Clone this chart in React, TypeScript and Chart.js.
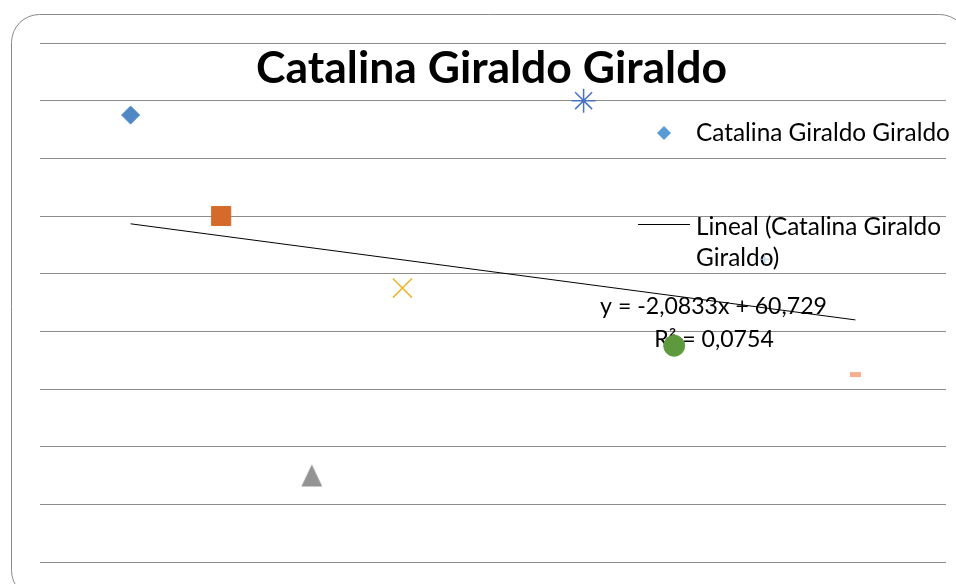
import React, { useEffect, useRef } from "react";
import { Chart, registerables } from "chart.js";

Chart.register(...registerables);

// Series data
const seriesName = "Catalina Giraldo Giraldo";
const xValues = [1, 2, 3, 4, 6, 7, 8, 9];
const yValues = [77.5, 60, 15, 47.5, 80, 37.5, 52.5, 32.5];

// Per-point marker appearance (varied colours per point)
const pointStyleNames = ["rectRot", "rect", "triangleBox", "crossRot", "star", "circle", "cross", "line"];
const pointColors = ["#4F88C5", "#D56B2B", "#939393", "#EDB52C", "#4673C4", "#5E9A3D", "#A9C9EA", "#F4AE8E"];
const pointSizes = [9, 13.5, 11, 13.5, 12, 10.5, 5, 5.5];
const pointLineWidths = [1, 1, 1, 1.5, 1.5, 1, 1, 5];

// Axis ranges (axes themselves carry no labels)
const yMin = 0;
const yMax = 90;
const yStep = 10;
const xMin = 0;
const xMax = 10;

const trendLegendLines = ["Lineal (Catalina Giraldo", "Giraldo)"];

const FONT = "Lato, 'Open Sans', 'Liberation Sans', sans-serif";

function linearFit(xs: number[], ys: number[]) {
  const n = xs.length;
  const mx = xs.reduce((a, b) => a + b, 0) / n;
  const my = ys.reduce((a, b) => a + b, 0) / n;
  let sxy = 0, sxx = 0, syy = 0;
  for (let i = 0; i < n; i++) {
    sxy += (xs[i] - mx) * (ys[i] - my);
    sxx += (xs[i] - mx) ** 2;
    syy += (ys[i] - my) ** 2;
  }
  const slope = sxy / sxx;
  const intercept = my - slope * mx;
  const r2 = (sxy * sxy) / (sxx * syy);
  return { slope, intercept, r2 };
}

const fit = linearFit(xValues, yValues);
const xFirst = Math.min(...xValues);
const xLast = Math.max(...xValues);

const fmt = (v: number, d: number) => v.toFixed(d).replace(".", ",");
const equationText = `y = ${fit.slope < 0 ? "-" : ""}${fmt(Math.abs(fit.slope), 4)}x + ${fmt(fit.intercept, 3)}`;
const r2Text = `R² = ${fmt(fit.r2, 4)}`;

// Triangle marker centred on its bounding box (not on its centroid)
function triangleMarker(color: string, half: number) {
  const size = Math.ceil(half * 2) + 2;
  const c = document.createElement("canvas");
  c.width = size;
  c.height = size;
  const g = c.getContext("2d")!;
  const m = size / 2;
  g.fillStyle = color;
  g.beginPath();
  g.moveTo(m, m - half);
  g.lineTo(m + half * 0.95, m + half);
  g.lineTo(m - half * 0.95, m + half);
  g.closePath();
  g.fill();
  return c;
}

function fitSize(ctx: CanvasRenderingContext2D, text: string, weight: string, width: number) {
  ctx.font = `${weight} 100px ${FONT}`;
  const w = ctx.measureText(text).width;
  return (100 * width) / w;
}

const framePlugin = {
  id: "frame",
  beforeDraw(chart: Chart) {
    const ctx = chart.ctx;
    ctx.save();
    ctx.fillStyle = "#ffffff";
    ctx.fillRect(0, 0, chart.width, chart.height);
    ctx.beginPath();
    ctx.roundRect(11.5, 14.5, 956, 584, 28);
    ctx.strokeStyle = "#8a8a8a";
    ctx.lineWidth = 1;
    ctx.stroke();
    ctx.restore();
  },
};

const textPlugin = {
  id: "labels",
  beforeDatasetsDraw(chart: Chart) {
    const ctx = chart.ctx;
    ctx.save();
    ctx.fillStyle = "#000000";
    ctx.textBaseline = "alphabetic";

    // Title
    const titleSize = fitSize(ctx, seriesName, "bold", 471);
    ctx.font = `bold ${titleSize}px ${FONT}`;
    ctx.textAlign = "center";
    ctx.fillText(seriesName, 491.5, 83);

    // Legend
    const legSize = fitSize(ctx, seriesName, "normal", 254);
    ctx.font = `normal ${legSize}px ${FONT}`;
    ctx.textAlign = "left";
    ctx.fillText(seriesName, 696, 141);
    ctx.fillStyle = "#5B9BD5";
    ctx.beginPath();
    ctx.moveTo(664, 126);
    ctx.lineTo(671, 133);
    ctx.lineTo(664, 140);
    ctx.lineTo(657, 133);
    ctx.closePath();
    ctx.fill();

    ctx.fillStyle = "#000000";
    ctx.fillText(trendLegendLines[0], 696, 235);
    ctx.fillText(trendLegendLines[1], 696, 266);
    ctx.strokeStyle = "#000000";
    ctx.lineWidth = 1;
    ctx.beginPath();
    ctx.moveTo(638, 224.5);
    ctx.lineTo(690, 224.5);
    ctx.stroke();

    // Trendline equation
    const eqSize = fitSize(ctx, equationText, "normal", 227);
    ctx.font = `normal ${eqSize}px ${FONT}`;
    ctx.textAlign = "center";
    ctx.fillText(equationText, 713.5, 314);
    ctx.fillText(r2Text, 714, 347);
    ctx.restore();
  },
};

export default function App() {
  const ref = useRef<HTMLCanvasElement | null>(null);

  useEffect(() => {
    if (!ref.current) return;
    const styles = pointStyleNames.map((s, i) =>
      s === "triangleBox" ? triangleMarker(pointColors[i], pointSizes[i]) : s
    );
    const chart = new Chart(ref.current, {
      type: "scatter",
      data: {
        datasets: [
          {
            label: seriesName,
            data: xValues.map((x, i) => ({ x, y: yValues[i] })),
            pointStyle: styles as any,
            pointRadius: pointSizes,
            pointHoverRadius: pointSizes,
            pointBackgroundColor: pointColors,
            pointBorderColor: pointColors,
            pointBorderWidth: pointLineWidths,
            showLine: false,
            order: 0,
          },
          {
            type: "line",
            label: "Lineal (" + seriesName + ")",
            data: [
              { x: xFirst, y: fit.intercept + fit.slope * xFirst },
              { x: xLast, y: fit.intercept + fit.slope * xLast },
            ],
            borderColor: "#000000",
            borderWidth: 1,
            pointRadius: 0,
            fill: false,
            order: 1,
          } as any,
        ],
      },
      options: {
        animation: false,
        responsive: false,
        devicePixelRatio: 1,
        layout: { autoPadding: false, padding: { left: 40, top: 43, right: 10, bottom: 22 } },
        plugins: {
          legend: { display: false },
          title: { display: false },
          tooltip: { enabled: false },
        },
        scales: {
          x: { type: "linear", min: xMin, max: xMax, display: false },
          y: {
            type: "linear",
            min: yMin,
            max: yMax,
            ticks: { display: false, stepSize: yStep },
            border: { display: false },
            grid: { color: "#8c8c8c", lineWidth: 1, drawTicks: false },
            afterFit: (s: any) => {
              s.width = 0;
            },
          },
        },
      },
      plugins: [framePlugin, textPlugin],
    });
    return () => chart.destroy();
  }, []);

  return (
    <div style={{ position: "fixed", left: 0, top: 0, width: 956, height: 584 }}>
      <canvas ref={ref} width={956} height={584} style={{ display: "block" }} />
    </div>
  );
}
